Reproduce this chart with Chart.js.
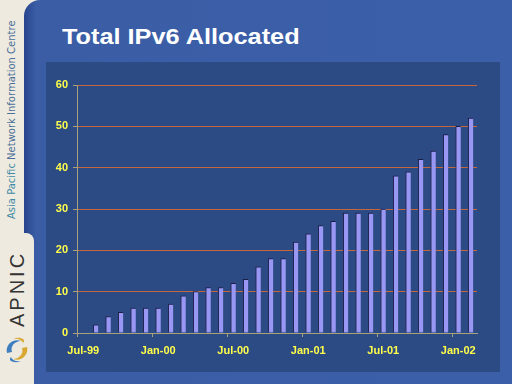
<!DOCTYPE html>
<html lang="en">
<head>
  <meta charset="UTF-8">
  <title>Total IPv6 Allocated</title>
  <script src="https://cdn.jsdelivr.net/npm/chart.js@4"></script>
  <style>
    * { margin: 0; padding: 0; box-sizing: border-box; }
    body { width: 512px; height: 384px; overflow: hidden; background: #eeeadf; position: relative; font-family: 'Liberation Sans', Arial, sans-serif; }
    #slide { position: absolute; left: 24px; top: 0; width: 488px; height: 384px; background: linear-gradient(to right, #27448c 0, #3a5da6 12px, #3b5fa8 100%); border-top-left-radius: 16px; }
    #tab { position: absolute; left: 24px; top: 233px; width: 10px; height: 151px; background: #eeeadf; border-top-right-radius: 8px; }
    #panel { position: absolute; left: 46px; top: 62px; width: 454px; height: 310px; background: #2c4a84; }
    #title { position: absolute; left: 62px; top: 26px; font-size: 22px; line-height: 22px; font-weight: bold; color: #fff; white-space: nowrap; transform: scaleX(1.15); transform-origin: left top; }
    .vert { position: absolute; white-space: nowrap; transform: rotate(-90deg); transform-origin: left top; }
    #org { left: 5px; top: 219px; font-family: 'DejaVu Sans', sans-serif; font-size: 10px; line-height: 13px; color: #4a6f98; }
    #org span { color: #3f8aa6; }
    #apnic { left: 7px; top: 327px; font-size: 20px; line-height: 20px; letter-spacing: 3px; color: #333; }
    #logo { position: absolute; left: 3px; top: 335px; }
    #wrap { position: absolute; left: 0; top: 0; width: 512px; height: 384px; }
  </style>
</head>
<body>
  <div id="slide"></div>
  <div id="tab"></div>
  <div id="panel"></div>
  <div id="title">Total IPv6 Allocated</div>
  <div id="org" class="vert"><span>Asia Pacific</span> Network Information Centre</div>
  <div id="apnic" class="vert">APNIC</div>
  <svg id="logo" width="28" height="30" viewBox="0 0 28 30">
    <path d="M4 18 C2 10 10 3 18 6 C12 6 7 11 9 17 Z" fill="#3f7fc0"/>
    <path d="M24 12 C26 20 18 27 10 24 C16 24 21 19 19 13 Z" fill="#d8a832"/>
    <path d="M8 22 C4 26 12 29 18 26 C13 27 9 25 8 22 Z" fill="#3f7fc0"/>
    <path d="M20 8 C24 4 16 1 10 4 C15 3 19 5 20 8 Z" fill="#d8a832"/>
  </svg>
  <div id="wrap"><canvas id="chart"></canvas></div>

  <script>
    const months = [
      'Jul-99','Aug-99','Sep-99','Oct-99','Nov-99','Dec-99',
      'Jan-00','Feb-00','Mar-00','Apr-00','May-00','Jun-00',
      'Jul-00','Aug-00','Sep-00','Oct-00','Nov-00','Dec-00',
      'Jan-01','Feb-01','Mar-01','Apr-01','May-01','Jun-01',
      'Jul-01','Aug-01','Sep-01','Oct-01','Nov-01','Dec-01',
      'Jan-02','Feb-02'
    ];
    const allocated = [
      null, 2, 4, 5, 6, 6, 6, 7, 9, 10, 11, 11, 12, 13, 16, 18,
      18, 22, 24, 26, 27, 29, 29, 29, 30, 38, 39, 42, 44, 48, 50, 52
    ];
    const tickLabels = ['Jul-99', 'Jan-00', 'Jul-00', 'Jan-01', 'Jul-01', 'Jan-02'];

    const axisColor = '#a8a27a';
    const gridColor = '#c2673f';
    const labelColor = '#ffff4a';
    const font = { family: "'Liberation Sans', Arial, sans-serif", size: 11, weight: 'bold' };

    new Chart(document.getElementById('chart'), {
      type: 'bar',
      data: {
        labels: months,
        datasets: [{
          data: allocated,
          backgroundColor: '#9898f4',
          borderColor: '#1c1c48',
          borderWidth: { left: 1, top: 1, right: 0, bottom: 0 },
          borderSkipped: false,
          barThickness: 5
        }]
      },
      options: {
        responsive: true,
        maintainAspectRatio: false,
        animation: false,
        layout: { padding: { left: 0, top: 85, right: 35, bottom: 0 } },
        plugins: { legend: { display: false }, tooltip: { enabled: false } },
        scales: {
          x: {
            afterFit: s => { s.height = 51; s.paddingLeft = 0; s.paddingRight = 0 },
            border: { color: axisColor, width: 1 },
            grid: {
              offset: true,
              drawOnChartArea: false,
              tickLength: 4,
              color: ctx => tickLabels.includes(months[ctx.index]) ? axisColor : 'transparent'
            },
            ticks: {
              autoSkip: false,
              maxRotation: 0,
              padding: 7,
              color: labelColor,
              font,
              callback: (v, i) => tickLabels.includes(months[i]) ? months[i] : ''
            }
          },
          y: {
            min: 0,
            max: 60,
            afterFit: s => { s.width = 77; s.paddingTop = 0; s.paddingBottom = 0 },
            border: { color: axisColor, width: 1 },
            grid: {
              tickLength: 4,
              tickColor: axisColor,
              color: ctx => ctx.tick && ctx.tick.value === 0 ? 'transparent' : gridColor
            },
            ticks: { stepSize: 10, padding: 5, color: labelColor, font }
          }
        }
      }
    });
  </script>
</body>
</html>
